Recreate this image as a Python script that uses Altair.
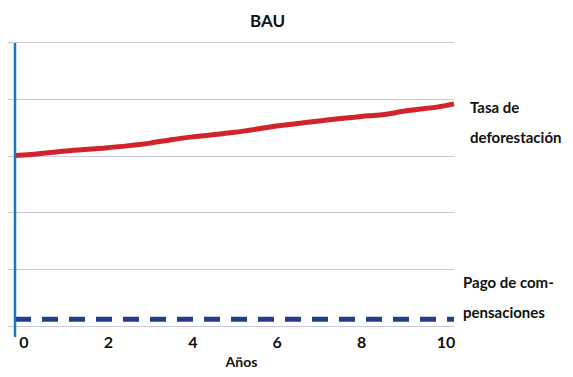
import altair as alt
import pandas as pd

# Data
years_rate = [-0.2, 0, 1, 2, 3, 3.5, 4, 5, 6, 7, 8, 8.5, 9, 10, 10.2]
rate = [3.00, 3.01, 3.08, 3.14, 3.22, 3.28, 3.33, 3.41, 3.52, 3.61, 3.69, 3.72, 3.78, 3.88, 3.91]
years_pay = [-0.2, 10.2]
pay = [0.12, 0.12]
x_ticks = [0, 2, 4, 6, 8, 10]
y_grid = [0, 1, 2, 3, 4, 5]
label_texts = [["Tasa de", "deforestación"], ["Pago de com-", "pensaciones"]]
label_y = [3.83, 0.76]

FONT = "Lato"

df_rate = pd.DataFrame({"year": years_rate, "v": rate})
df_pay = pd.DataFrame({"year": years_pay, "v": pay})

xs = alt.Scale(domain=[-0.2, 10.2], nice=False, zero=False)
ys = alt.Scale(domain=[0, 5], nice=False)

xenc = alt.X("year:Q", scale=xs, axis=alt.Axis(
    values=x_ticks, grid=False, ticks=False, domain=False, title="Años",
    labelFont=FONT, labelFontSize=16, labelFontWeight="bold", labelColor="#111",
    labelPadding=8, titleFont=FONT, titleFontSize=14, titleFontWeight="bold",
    titleColor="#111", titlePadding=5, titleX=226, labelFlush=False))
yenc = alt.Y("v:Q", scale=ys, axis=alt.Axis(
    values=y_grid, grid=True, gridColor="#c9c7e3", gridWidth=1.2,
    ticks=True, tickColor="#c9c7e3", tickSize=8, tickWidth=1.2,
    labels=False, domain=False, title=None))

red = alt.Chart(df_rate).mark_line(color="#d2232a", strokeWidth=5, interpolate="monotone").encode(x=xenc, y=yenc)
blue = alt.Chart(df_pay).mark_line(color="#233e8b", strokeWidth=5, strokeDash=[16, 11]).encode(
    x=alt.X("year:Q", scale=xs), y=alt.Y("v:Q", scale=ys))

axis_line = alt.Chart(pd.DataFrame({"a": [0]})).mark_rule(color="#1d73be", strokeWidth=2.5).encode(
    x=alt.value(0), y=alt.value(1), y2=alt.value(295))

df_l1 = pd.DataFrame({"year": [10.2], "v": [label_y[0]], "t": [label_texts[0]]})
df_l2 = pd.DataFrame({"year": [10.2], "v": [label_y[1]], "t": [label_texts[1]]})
t1 = alt.Chart(df_l1).mark_text(align="left", baseline="middle", dx=16, font=FONT, fontSize=15,
                                fontWeight="bold", color="#111", lineHeight=30).encode(
    x=alt.X("year:Q", scale=xs), y=alt.Y("v:Q", scale=ys), text="t")
t2 = alt.Chart(df_l2).mark_text(align="left", baseline="middle", dx=9, font=FONT, fontSize=15,
                                fontWeight="bold", color="#111", lineHeight=30).encode(
    x=alt.X("year:Q", scale=xs), y=alt.Y("v:Q", scale=ys), text="t")

chart = alt.layer(red, blue, axis_line, t1, t2).properties(
    width=439, height=284,
    title=alt.TitleParams("BAU", font=FONT, fontSize=17, fontWeight="bold", color="#111",
                          anchor="middle", dx=33, offset=10),
    autosize=alt.AutoSizeParams(type="none"),
    padding={"left": 7, "top": 34, "right": 111, "bottom": 43},
).configure_view(stroke=None)

chart.save("out.html", embed_options={"renderer": "svg", "actions": False})
